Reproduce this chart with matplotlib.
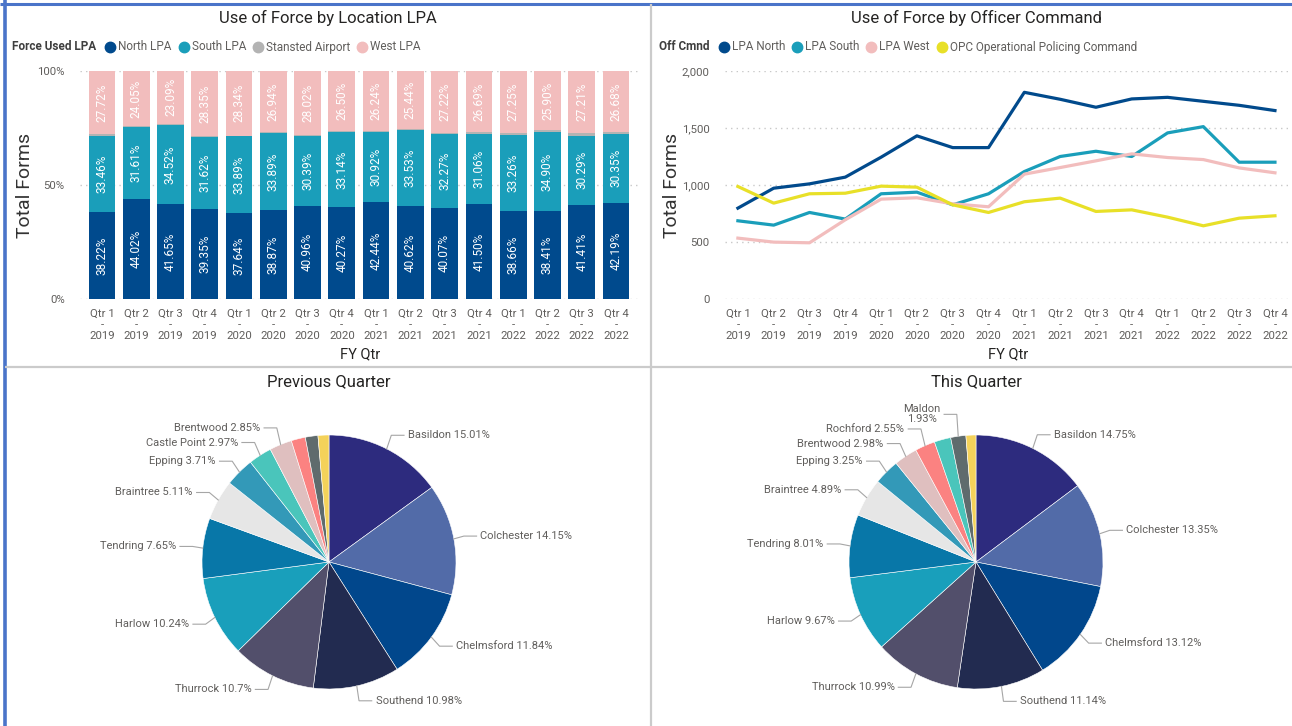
import matplotlib
matplotlib.use('Agg')
import matplotlib.pyplot as plt
from matplotlib.lines import Line2D
import numpy as np

W, H = 1292, 726
plt.rcParams['font.family'] = ['Roboto', 'DejaVu Sans']

# ---------------- data ----------------
quarters = ['Qtr 1', 'Qtr 2', 'Qtr 3', 'Qtr 4'] * 4
years = ['2019'] * 4 + ['2020'] * 4 + ['2021'] * 4 + ['2022'] * 4
periods = [f"{q}\n-\n{y}" for q, y in zip(quarters, years)]

north_lpa_pct = [38.22, 44.02, 41.65, 39.35, 37.64, 38.87, 40.96, 40.27,
                 42.44, 40.62, 40.07, 41.50, 38.66, 38.41, 41.41, 42.19]
south_lpa_pct = [33.46, 31.61, 34.52, 31.62, 33.89, 33.89, 30.39, 33.14,
                 30.92, 33.53, 32.27, 31.06, 33.26, 34.90, 30.29, 30.35]
stansted_pct = [0.60, 0.32, 0.74, 0.68, 0.13, 0.30, 0.63, 0.09,
                0.40, 0.41, 0.44, 0.75, 0.83, 0.79, 1.09, 0.78]
west_lpa_pct = [27.72, 24.05, 23.09, 28.35, 28.34, 26.94, 28.02, 26.50,
                26.24, 25.44, 27.22, 26.69, 27.25, 25.90, 27.21, 26.68]

lpa_north = [797, 972, 1010, 1069, 1244, 1431, 1328, 1328,
             1813, 1752, 1682, 1755, 1769, 1734, 1699, 1653]
lpa_south = [686, 648, 759, 701, 923, 937, 826, 923,
             1118, 1250, 1296, 1250, 1457, 1512, 1200, 1200]
lpa_west = [534, 499, 493, 695, 876, 888, 835, 809,
            1095, 1153, 1212, 1273, 1241, 1223, 1150, 1107]
opc = [987, 841, 923, 928, 990, 981, 826, 759,
       853, 885, 768, 782, 718, 642, 709, 730]

prev_names = ['Basildon', 'Colchester', 'Chelmsford', 'Southend', 'Thurrock', 'Harlow',
              'Tendring', 'Braintree', 'Epping', 'Castle Point', 'Brentwood',
              'Rochford', 'Maldon', 'Uttlesford']
prev_values = [15.01, 14.15, 11.84, 10.98, 10.70, 10.24, 7.65, 5.11, 3.71, 2.97, 2.85,
               1.80, 1.60, 1.39]
prev_labelled = ['Basildon', 'Colchester', 'Chelmsford', 'Southend', 'Thurrock', 'Harlow',
                 'Tendring', 'Braintree', 'Epping', 'Castle Point', 'Brentwood']

this_names = ['Basildon', 'Colchester', 'Chelmsford', 'Southend', 'Thurrock', 'Harlow',
              'Tendring', 'Braintree', 'Epping', 'Brentwood', 'Rochford',
              'Castle Point', 'Maldon', 'Uttlesford']
this_values = [14.75, 13.35, 13.12, 11.14, 10.99, 9.67, 8.01, 4.89, 3.25, 2.98, 2.55,
               2.10, 1.93, 1.27]
this_labelled = ['Basildon', 'Colchester', 'Chelmsford', 'Southend', 'Thurrock', 'Harlow',
                 'Tendring', 'Braintree', 'Epping', 'Brentwood', 'Rochford', 'Maldon']
this_wrapped = ['Maldon']

# ---------------- styles ----------------
C_TITLE = '#252423'
C_TICK = '#605E5C'
C_GRID = '#C8C8C8'
bar_colors = {'North LPA': '#004A8D', 'South LPA': '#1A9EBA',
              'Stansted Airport': '#B3B3B3', 'West LPA': '#F2BDBD'}
line_colors = {'LPA North': '#014A8C', 'LPA South': '#1A9EBA',
               'LPA West': '#F2BDBD', 'OPC Operational Policing Command': '#E8E028'}
district_colors = {'Basildon': '#2D2B7E', 'Colchester': '#526BA8', 'Chelmsford': '#01478C',
                   'Southend': '#222B50', 'Thurrock': '#524F6B', 'Harlow': '#199FBB',
                   'Tendring': '#0877A8', 'Braintree': '#E6E6E6', 'Epping': '#3399B8',
                   'Castle Point': '#4AC5BB', 'Brentwood': '#DFBFBF', 'Rochford': '#FB8281',
                   'Maldon': '#5F6B6D', 'Uttlesford': '#F4D25A'}

fig = plt.figure(figsize=(W / 100, H / 100), dpi=100)
fig.patch.set_facecolor('white')


def fx(px):
    return px / W


def fy(py):
    return 1 - py / H


def axes_px(l, t, r, b):
    return fig.add_axes([l / W, 1 - b / H, (r - l) / W, (b - t) / H])


def line_px(xs, ys, color, lw):
    fig.add_artist(Line2D([fx(x) for x in xs], [fy(y) for y in ys], color=color,
                          lw=lw, transform=fig.transFigure, solid_capstyle='butt'))


renderer = fig.canvas.get_renderer()


def inline_legend(x, y, title, labels, colors, fs=8.5):
    t = fig.text(fx(x), fy(y), title, fontsize=fs, fontweight='bold', color='#3F3F3F',
                 ha='left', va='center')
    cur = x + t.get_window_extent(renderer).width + 9
    for lab, col in zip(labels, colors):
        fig.add_artist(Line2D([fx(cur + 5)], [fy(y)], marker='o', ms=7.5, color=col,
                              linestyle='none', transform=fig.transFigure))
        tt = fig.text(fx(cur + 13), fy(y), lab, fontsize=fs, color=C_TICK,
                      ha='left', va='center')
        cur = cur + 13 + tt.get_window_extent(renderer).width + 7


def style_axes(ax):
    for s in ax.spines.values():
        s.set_visible(False)
    ax.tick_params(axis='both', length=0, labelsize=8.2, labelcolor=C_TICK)
    ax.tick_params(axis='x', pad=7)
    ax.tick_params(axis='y', pad=11)
    ax.grid(axis='y', linestyle=(0, (1, 3)), color=C_GRID, lw=1)
    ax.set_axisbelow(True)
    for lab in ax.get_xticklabels():
        lab.set_linespacing(1.15)


# ---------------- panel borders ----------------
line_px([0, W], [4, 4], '#4A74C9', 2.2)
line_px([5, 5], [0, H], '#4A74C9', 2.6)
line_px([651, 651], [4, H], '#CBCBCB', 1.6)
line_px([5, W], [367, 367], '#CBCBCB', 1.6)

# ---------------- stacked 100% bar chart ----------------
ax1 = axes_px(80, 71, 640, 299)
x = np.arange(len(periods))
bottom = np.zeros(len(periods))
series = [('North LPA', north_lpa_pct, True), ('South LPA', south_lpa_pct, True),
          ('Stansted Airport', stansted_pct, False), ('West LPA', west_lpa_pct, True)]
for name, vals, lab in series:
    vals = np.array(vals)
    ax1.bar(x, vals, bottom=bottom, width=0.78, color=bar_colors[name], zorder=2)
    if lab:
        for xi, b, v in zip(x, bottom, vals):
            ax1.text(xi, b + v / 2, f"{v:.2f}%", rotation=90, ha='center', va='center',
                     color='white', fontsize=8.5, zorder=3)
    bottom = bottom + vals
ax1.set_xlim(-0.64, 15.7)
ax1.set_ylim(0, 100)
ax1.set_yticks([0, 50, 100])
ax1.set_yticklabels(['0%', '50%', '100%'])
ax1.set_xticks(x)
ax1.set_xticklabels(periods)
style_axes(ax1)

fig.text(fx(328), fy(18), 'Use of Force by Location LPA', fontsize=12, color=C_TITLE,
         ha='center', va='center')
inline_legend(12, 47, 'Force Used LPA', list(bar_colors.keys()), list(bar_colors.values()))
fig.text(fx(25), fy(185), 'Total Forms', rotation=90, fontsize=14, color='#333333',
         ha='center', va='center')
fig.text(fx(360), fy(354), 'FY Qtr', fontsize=10.5, color=C_TITLE, ha='center', va='center')

# ---------------- line chart ----------------
ax2 = axes_px(725, 71, 1290, 299)
for name, vals in [('LPA North', lpa_north), ('LPA South', lpa_south),
                   ('LPA West', lpa_west), ('OPC Operational Policing Command', opc)]:
    ax2.plot(x, vals, color=line_colors[name], lw=2.3, zorder=2)
ax2.set_xlim(-0.36, 15.42)
ax2.set_ylim(0, 2000)
ax2.set_yticks([0, 500, 1000, 1500, 2000])
ax2.set_yticklabels(['0', '500', '1,000', '1,500', '2,000'])
ax2.set_xticks(x)
ax2.set_xticklabels(periods)
style_axes(ax2)

fig.text(fx(976), fy(18), 'Use of Force by Officer Command', fontsize=12, color=C_TITLE,
         ha='center', va='center')
inline_legend(659, 47, 'Off Cmnd', list(line_colors.keys()), list(line_colors.values()))
fig.text(fx(672), fy(185), 'Total Forms', rotation=90, fontsize=14, color='#333333',
         ha='center', va='center')
fig.text(fx(1008), fy(354), 'FY Qtr', fontsize=10.5, color=C_TITLE, ha='center', va='center')


# ---------------- pies ----------------
def fmt_pct(v):
    return ('%.2f' % v).rstrip('0').rstrip('.') + '%'


def draw_pie(cx, cy, r, title, names, values, labelled, wrapped=()):
    ax = axes_px(cx - r, cy - r, cx + r, cy + r)
    ax.pie(values, colors=[district_colors[n] for n in names], startangle=90,
           counterclock=False, radius=1,
           wedgeprops=dict(edgecolor='white', linewidth=0.4))
    ax.set_xlim(-1, 1)
    ax.set_ylim(-1, 1)
    total = float(sum(values))
    cum = np.concatenate([[0], np.cumsum(values)])
    items = []
    for i, (n, v) in enumerate(zip(names, values)):
        if n not in labelled:
            continue
        a = (cum[i] + v / 2) / total * 2 * np.pi
        s, c = np.sin(a), np.cos(a)
        sep = '\n' if n in wrapped else ' '
        items.append(dict(s=s, c=c, y=1.12 * c, side=1 if s >= 0 else -1,
                          text=f"{n}{sep}{fmt_pct(v)}"))
    for side in (1, -1):
        grp = sorted([it for it in items if it['side'] == side], key=lambda d: d['y'])
        for j in range(1, len(grp)):
            need = grp[j - 1]['y'] + 0.115
            if grp[j]['y'] < need:
                grp[j]['y'] = need
    for it in items:
        ex = 1.08 * it['s']
        sd = it['side']
        ax.plot([it['s'] * 1.0, ex, ex + sd * 0.10], [it['c'] * 1.0, it['y'], it['y']],
                color='#A6A6A6', lw=0.8, clip_on=False, solid_joinstyle='miter')
        ax.text(ex + sd * 0.13, it['y'], it['text'], ha='left' if sd > 0 else 'right',
                va='center', fontsize=8, color=C_TICK, multialignment='center',
                linespacing=1.0, clip_on=False)
    fig.text(fx(cx), fy(382), title, fontsize=12, color=C_TITLE, ha='center', va='center')


draw_pie(329, 562, 127, 'Previous Quarter', prev_names, prev_values, prev_labelled)
draw_pie(976, 562, 127, 'This Quarter', this_names, this_values, this_labelled, this_wrapped)

fig.savefig('out.png', dpi=100, facecolor='white')
